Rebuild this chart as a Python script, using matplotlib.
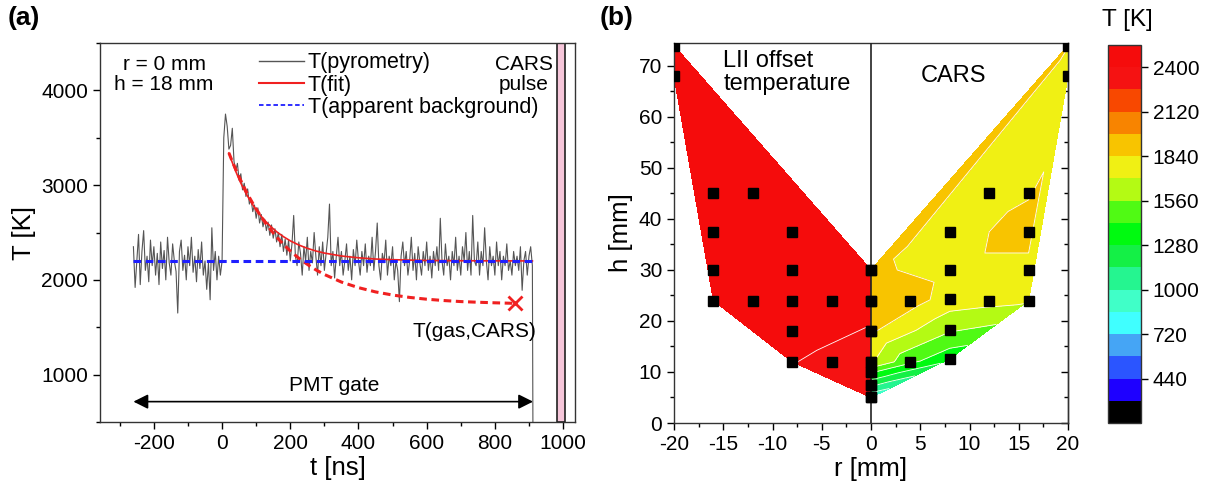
import numpy as np
import matplotlib
matplotlib.use('Agg')
import matplotlib.pyplot as plt
import matplotlib.tri as mtri
from matplotlib.colors import ListedColormap, BoundaryNorm
from matplotlib.cm import ScalarMappable
from matplotlib.ticker import MultipleLocator
from matplotlib.lines import Line2D

plt.rcParams['font.family'] = ['Liberation Sans', 'DejaVu Sans']
plt.rcParams['axes.unicode_minus'] = False

# ---------------- Panel (a) data ----------------
t_pre = np.arange(-260, 0, 5)
T_pre = [2350, 1920, 2200, 2480, 1950, 2300, 2520, 2100, 2250, 1980,
         2420, 2150, 2350, 2050, 2280, 1950, 2400, 2120, 2310, 2000,
         2450, 2180, 2050, 2380, 2200, 2090, 1650, 2300, 2420, 2100,
         2260, 2000, 2350, 2150, 2450, 2080, 2250, 1980, 2320, 2120,
         2400, 2050, 2200, 1900, 2180, 1790, 2550, 2100, 2300, 2000,
         2250, 2050]
t_post = np.arange(0, 915, 5)
T_post = [2200, 3500, 3750, 3620, 3380, 3420, 3600, 3250, 3150, 3230,
          3050, 3120, 2950, 3020, 2880, 2960, 2800, 2850, 2720, 2790,
          2650, 2760, 2600, 2690, 2560, 2640, 2520, 2610, 2470, 2580,
          2440, 2540, 2400, 2500, 2350, 2480, 2300, 2430, 2260, 2420,
          2200, 2380, 2680, 2250, 2150, 2400, 2280, 2050, 2350, 2200,
          2450, 2100, 2300, 2180, 2500, 2250, 2050, 2350, 2150, 2400,
          2100, 2280, 2450, 2800, 2150, 2300, 2020, 2250, 2450, 2150,
          2300, 2050, 2200, 2380, 2100, 2250, 2000, 2320, 2150, 2420,
          2200, 2050, 2300, 2150, 2380, 2080, 2250, 2150, 2450, 2100,
          2300, 2600, 2150, 2000, 2280, 2180, 2420, 2050, 2250, 2150,
          2350, 2000, 2200, 2100, 1770, 2250, 2400, 2150, 2300, 2050,
          2200, 2450, 2100, 2280, 2000, 2350, 2180, 2050, 2300, 2150,
          2400, 2100, 2250, 2020, 2300, 2150, 2350, 2100, 2650, 2200,
          2050, 2380, 2150, 2250, 2000, 2300, 2150, 2450, 2100, 2250,
          2050, 2350, 2200, 2500, 2100, 2300, 2050, 2680, 2200, 2150,
          2400, 2050, 2300, 2150, 2550, 2200, 2000, 2350, 2150, 2250,
          2050, 2400, 2150, 2300, 2000, 2250, 2150, 2380, 2100, 2200,
          2050, 2300, 2150, 2250, 2100, 2350, 1890, 2200, 2300, 2050,
          2250, 2350, 2150]
t_end = [912]
T_end = [0]

t_fit = [20, 30, 40, 50, 60, 70, 80, 90, 100, 115, 130, 145, 160, 180, 200,
         225, 250, 275, 300, 350, 400, 450, 500, 600, 700, 800, 910]
T_fit = [3340, 3238, 3146, 3061, 2984, 2914, 2851, 2793, 2740, 2669, 2608,
         2555, 2508, 2456, 2412, 2368, 2333, 2305, 2283, 2252, 2233, 2220,
         2213, 2205, 2202, 2201, 2200]

t_gas = [20, 30, 40, 50, 60, 70, 80, 90, 100, 115, 130, 145, 160, 180, 200,
         225, 250, 275, 300, 350, 400, 450, 500, 550, 600, 650, 700, 750,
         800, 860]
T_gas = [3340, 3250, 3166, 3085, 3010, 2938, 2871, 2808, 2748, 2664, 2587,
         2517, 2452, 2375, 2305, 2229, 2164, 2106, 2057, 1977, 1918, 1873,
         1840, 1815, 1796, 1782, 1771, 1764, 1758, 1752]

t_bg = [-260, 910]
T_bg = [2200, 2200]

t_cars_point = [860]
T_cars_point = [1752]

t_cars_pulse = (983, 1006)
t_gate = (-260, 912)

# ---------------- Panel (b) data ----------------
r_lii = [-20, -20, -16, -12, -16, -8, -16, -8, 0, -16, -12, -8, -4, 0,
         -8, 0, -8, -4, 0, 0, 0, 0]
h_lii = [74, 68, 45, 45, 37.5, 37.5, 30, 30, 30, 24, 24, 24, 24, 24,
         18, 18, 12, 12, 12, 10, 7.5, 5]
T_lii = [2480, 2480, 2480, 2480, 2480, 2480, 2480, 2480, 2470, 2480, 2480,
         2480, 2470, 2450, 2450, 2390, 2405, 2370, 2360, 2350, 2340, 2330]

r_cars = [0, 0, 0, 0, 0, 0, 0, 4, 4, 8, 8, 8, 8, 8, 12, 12, 16, 16, 16, 16,
          20, 20]
h_cars = [5, 7.5, 10, 12, 18, 24, 30, 12, 24, 12.6, 18.3, 24.3, 30, 37.5,
          24, 45, 24, 30, 37.5, 45, 68, 74]
T_cars = [900, 1180, 1440, 1720, 1860, 1950, 1860, 1450, 1900, 1330, 1580,
          1780, 1800, 1790, 1740, 1795, 1720, 1800, 1890, 1830, 1760, 1845]

levels = np.arange(160, 2541, 140)
band_colors = ['#000000', '#1e00ff', '#2b55ff', '#45a5f5', '#40ffff',
               '#40ffc8', '#25f590', '#14f046', '#00fa10', '#50fa14',
               '#b4fa14', '#f0f014', '#f8c400', '#f88400', '#f84800',
               '#f51212', '#f50c0c']
cbar_ticks = [440, 720, 1000, 1280, 1560, 1840, 2120, 2400]

# ---------------- Figure ----------------
W, H = 1221, 490
fig = plt.figure(figsize=(W / 100, H / 100), dpi=100)
axa = fig.add_axes([100 / W, 68 / H, 475 / W, 379 / H])
axb = fig.add_axes([674 / W, 67 / H, 394 / W, 380 / H])
cax = fig.add_axes([1108 / W, 67 / H, 33 / W, 378 / H])

FS = 15

# ---- Panel (a)
t_all = np.concatenate([t_pre, t_post, t_end])
T_all = np.concatenate([T_pre, T_post, T_end])
axa.plot(t_all, T_all, color='#555555', lw=0.8, zorder=2)
axa.plot(t_fit, T_fit, color='#f02020', lw=1.2, zorder=3)
axa.plot(t_gas, T_gas, color='#f02020', lw=2.2, dashes=(2.5, 1.5), zorder=4)
axa.plot(t_bg, T_bg, color='#1f1fff', lw=2.2, dashes=(2.5, 1.5), zorder=5)
axa.plot(t_cars_point, T_cars_point, ls='none', marker='x', ms=10, mew=2,
         color='#f02020', zorder=6)
axa.axvspan(*t_cars_pulse, facecolor='#f6c6da', edgecolor='#222222', lw=1.2,
            zorder=1)
axa.annotate('', xy=(t_gate[0], 715), xytext=(t_gate[1], 715),
             arrowprops=dict(arrowstyle='<|-|>', color='black', lw=1.2,
                             mutation_scale=22, shrinkA=0, shrinkB=0))
axa.text(330, 790, 'PMT gate', ha='center', va='bottom', fontsize=FS)
axa.text(740, 1450, 'T(gas,CARS)', ha='center', va='center', fontsize=FS)
axa.text(-170, 4375, 'r = 0 mm\nh = 18 mm', ha='center', va='top',
         fontsize=FS, linespacing=1.05)
axa.text(885, 4375, 'CARS\npulse', ha='center', va='top', fontsize=FS,
         linespacing=1.05)

handles = [Line2D([], [], color='#555555', lw=1.0),
           Line2D([], [], color='#f02020', lw=1.5),
           Line2D([], [], color='#1f1fff', lw=1.3, dashes=(2.5, 1.5))]
axa.legend(handles, ['T(pyrometry)', 'T(fit)', 'T(apparent background)'],
           loc='upper left', bbox_to_anchor=(0.335, 0.975), frameon=False,
           fontsize=15.5, handlelength=2.1, handletextpad=0.15,
           labelspacing=0.05, borderpad=0, borderaxespad=0)

axa.set_xlim(-358, 1035)
axa.set_ylim(500, 4500)
axa.xaxis.set_major_locator(MultipleLocator(200))
axa.xaxis.set_minor_locator(MultipleLocator(100))
axa.yaxis.set_major_locator(MultipleLocator(1000))
axa.yaxis.set_minor_locator(MultipleLocator(500))
axa.tick_params(which='both', direction='out', labelsize=FS, width=1,
                top=False, right=False)
axa.tick_params(which='major', length=5)
axa.tick_params(which='minor', length=3)
axa.set_xlabel('t [ns]', fontsize=18.5, labelpad=2)
axa.set_ylabel('T [K]', fontsize=18.5, labelpad=4)
for s in axa.spines.values():
    s.set_linewidth(1)
    s.set_color('#333333')

# ---- Panel (b)
cmap = ListedColormap(band_colors)
norm = BoundaryNorm(levels, cmap.N)
for r, h, T in [(r_lii, h_lii, T_lii), (r_cars, h_cars, T_cars)]:
    tri = mtri.Triangulation(r, h)
    axb.tricontourf(tri, T, levels=levels, cmap=cmap, norm=norm, zorder=1)
    axb.tricontour(tri, T, levels=levels, colors='white', linewidths=0.6,
                   zorder=2)
axb.axvline(0, color='#222222', lw=1.2, zorder=3)
axb.plot(r_lii + r_cars, h_lii + h_cars, ls='none', marker='s', ms=6.5,
         color='black', zorder=4)
axb.text(-15, 73.2, 'LII offset\ntemperature', ha='left', va='top',
         fontsize=17, linespacing=1.1)
axb.text(8.4, 68, 'CARS', ha='center', va='center', fontsize=17)

axb.set_xlim(-20, 20)
axb.set_ylim(0, 74.5)
axb.xaxis.set_major_locator(MultipleLocator(5))
axb.xaxis.set_minor_locator(MultipleLocator(2.5))
axb.yaxis.set_major_locator(MultipleLocator(10))
axb.yaxis.set_minor_locator(MultipleLocator(5))
axb.tick_params(which='both', direction='out', labelsize=FS, width=1,
                top=False, right=False)
axb.tick_params(which='major', length=5)
axb.tick_params(which='minor', length=3)
sec = axb.secondary_yaxis('right')
sec.yaxis.set_major_locator(MultipleLocator(10))
sec.yaxis.set_minor_locator(MultipleLocator(5))
sec.tick_params(which='both', direction='in', labelright=False, width=1)
sec.tick_params(which='major', length=5)
sec.tick_params(which='minor', length=3)
sec.spines['right'].set_linewidth(1)
sec.spines['right'].set_color('#333333')
axb.set_xlabel('r [mm]', fontsize=18.5, labelpad=2)
axb.set_ylabel('h [mm]', fontsize=18.5, labelpad=4)
for s in axb.spines.values():
    s.set_linewidth(1)
    s.set_color('#333333')

# ---- Colorbar
cb = fig.colorbar(ScalarMappable(norm=norm, cmap=cmap), cax=cax,
                  ticks=cbar_ticks)
cb.outline.set_linewidth(1)
cb.outline.set_edgecolor('#333333')
cax.tick_params(labelsize=FS, length=5, width=1, direction='out')
cax.minorticks_off()
fig.text(1127 / W, 1 - 20 / H, 'T [K]', ha='center', va='center',
         fontsize=17.5)

# Panel labels
fig.text(8 / W, 1 - 18 / H, '(a)', ha='left', va='center', fontsize=19,
         fontweight='bold')
fig.text(600 / W, 1 - 18 / H, '(b)', ha='left', va='center', fontsize=19,
         fontweight='bold')

fig.savefig('out.png', dpi=100)
